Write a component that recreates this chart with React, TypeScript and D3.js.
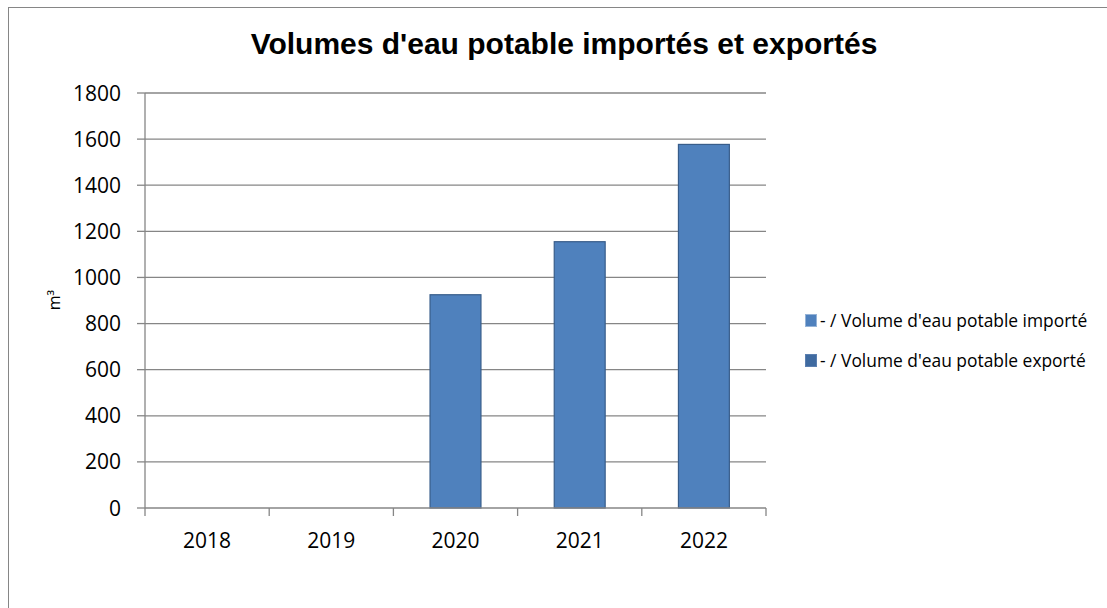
import * as d3 from "d3";

const years = ["2018", "2019", "2020", "2021", "2022"];
const imported = [0, 0, 925, 1155, 1577];
const exported = [0, 0, 0, 0, 0];
const yTicks = [0, 200, 400, 600, 800, 1000, 1200, 1400, 1600, 1800];
const seriesNames = [
  "- / Volume d'eau potable importé",
  "- / Volume d'eau potable exporté",
];

const W = 1107;
const H = 608;
const plot = { left: 145, right: 766, top: 93, bottom: 508 };
const labelFont = "'Open Sans', Lato, sans-serif";

export default function App() {
  const x = d3
    .scaleBand()
    .domain(years)
    .range([plot.left, plot.right])
    .paddingInner(0)
    .paddingOuter(0);

  const y = d3.scaleLinear().domain([0, 1800]).range([plot.bottom, plot.top]);

  const barW = x.bandwidth() * 0.41;
  const edges = [...years.map((d) => x(d) as number), plot.right];

  return (
    <div style={{ position: "absolute", left: 0, top: 0 }}>
      <svg width={W} height={H} style={{ display: "block" }}>
        <rect x={0} y={0} width={W} height={H} fill="#ffffff" />
        {/* chart border, runs out of the frame */}
        <rect x={8.5} y={7.5} width={W + 20} height={H + 20} fill="none" stroke="#868686" strokeWidth={1} />

        <text
          x={564}
          y={53.5}
          textAnchor="middle"
          fontFamily="'Liberation Sans', Arial, sans-serif"
          fontWeight="bold"
          fontSize={30}
          fill="#000"
        >
          Volumes d'eau potable importés et exportés
        </text>

        {/* gridlines + y ticks */}
        {yTicks.map((t) => (
          <g key={t}>
            {t > 0 && (
              <line x1={plot.left} x2={plot.right} y1={y(t)} y2={y(t)} stroke="#868686" strokeWidth={1.3} />
            )}
            <line x1={plot.left - 8} x2={plot.left} y1={y(t)} y2={y(t)} stroke="#868686" strokeWidth={1.3} />
            <text
              x={121}
              y={y(t)}
              dy="0.36em"
              textAnchor="end"
              fontFamily={labelFont}
              fontSize={21}
              fill="#000"
            >
              {t}
            </text>
          </g>
        ))}

        {/* bars */}
        {years.map((yr, i) =>
          imported[i] > 0 ? (
            <rect
              key={yr}
              x={(x(yr) as number) + x.bandwidth() / 2 - barW / 2}
              y={y(imported[i])}
              width={barW}
              height={y(0) - y(imported[i])}
              fill="#4F81BD"
              stroke="#385D8A"
              strokeWidth={1.2}
            />
          ) : null
        )}
        {years.map((yr, i) =>
          exported[i] > 0 ? (
            <rect
              key={"e" + yr}
              x={(x(yr) as number) + x.bandwidth() / 2 - barW / 2}
              y={y(exported[i])}
              width={barW}
              height={y(0) - y(exported[i])}
              fill="#3F6AA0"
              stroke="#2F4F7A"
            />
          ) : null
        )}

        {/* axes */}
        <line x1={plot.left} x2={plot.left} y1={plot.top} y2={plot.bottom} stroke="#868686" strokeWidth={1.3} />
        <line x1={plot.left} x2={plot.right} y1={plot.bottom} y2={plot.bottom} stroke="#868686" strokeWidth={1.3} />
        {edges.map((e, i) => (
          <line key={i} x1={e} x2={e} y1={plot.bottom} y2={plot.bottom + 8} stroke="#868686" strokeWidth={1.3} />
        ))}
        {years.map((yr) => (
          <text
            key={yr}
            x={(x(yr) as number) + x.bandwidth() / 2}
            y={548}
            textAnchor="middle"
            fontFamily={labelFont}
            fontSize={21}
            fill="#000"
          >
            {yr}
          </text>
        ))}

        <text
          transform="translate(54,300) rotate(-90)"
          textAnchor="middle"
          dy="0.35em"
          fontFamily={labelFont}
          fontSize={16}
          fill="#000"
        >
          m³
        </text>

        {/* legend */}
        {seriesNames.map((name, i) => (
          <g key={name} transform={`translate(805,${314 + i * 40})`}>
            <rect
              x={0.5}
              y={0.5}
              width={11}
              height={12}
              fill={i === 0 ? "#4F81BD" : "#3F6AA0"}
              stroke={i === 0 ? "#95B3D7" : "#5B7FB0"}
            />
            <text x={15} y={12.5} fontFamily={labelFont} fontSize={17.4} fill="#000">
              {name}
            </text>
          </g>
        ))}
      </svg>
    </div>
  );
}
